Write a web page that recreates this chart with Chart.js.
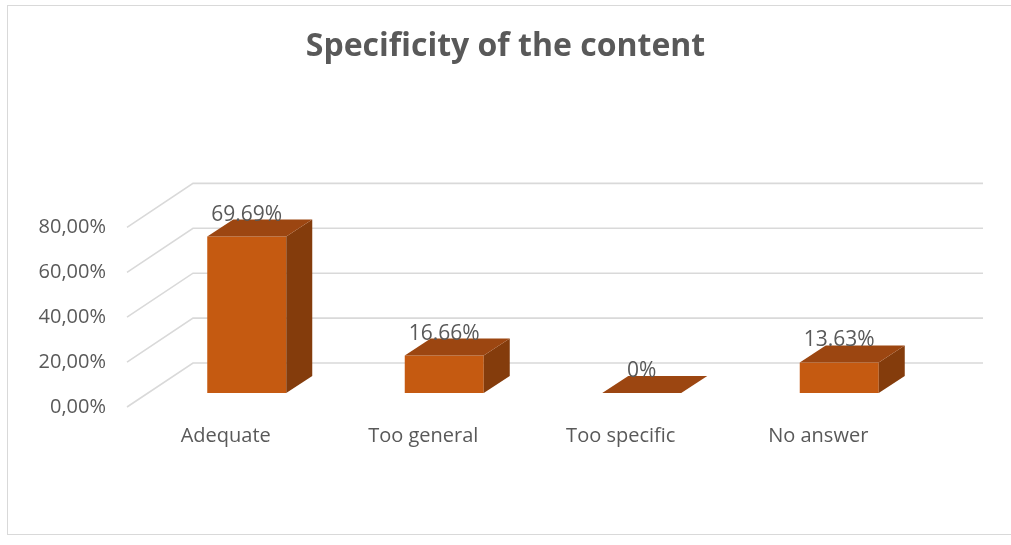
<!DOCTYPE html>
<html>
<head>
<meta charset="utf-8">
<script src="https://cdn.jsdelivr.net/npm/chart.js@4/dist/chart.umd.min.js"></script>
<style>
  html, body { margin: 0; padding: 0; background: #fff; }
  #wrap { position: relative; width: 1011px; height: 545px; overflow: hidden; }
  #frame { position: absolute; left: 7px; top: 5px; width: 1012px; height: 530px;
           border: 1px solid #d9d9d9; box-sizing: border-box; }
  canvas { position: absolute; left: 0; top: 0; }
</style>
</head>
<body>
<div id="wrap">
  <div id="frame"></div>
  <canvas id="chart" width="1011" height="545"></canvas>
</div>
<script>
// answers and their share of respondents (%)
const categories = ['Adequate', 'Too general', 'Too specific', 'No answer'];
const shares = [69.69, 16.66, 0, 13.63];
const shareLabels = ['69.69%', '16.66%', '0%', '13.63%'];
const axisTicks = [0, 20, 40, 60, 80];

// fake 3d: offsets from the bar front plane
const DEPTH_X = 26, DEPTH_Y = 17;   // bar depth
const WALL_X = 45, WALL_Y = 30;     // back wall
const FLOOR_X = 21, FLOOR_Y = 14;   // front edge of the floor

const FRONT = '#c55a11', TOP = '#9c4611', SIDE = '#843c0c';

const box3d = {
  id: 'box3d',
  beforeDatasetsDraw(chart) {
    const {ctx, chartArea: a, scales: {y}} = chart;
    ctx.save();
    ctx.strokeStyle = '#d9d9d9';
    ctx.lineWidth = 1.6;
    axisTicks.forEach(v => {
      const py = y.getPixelForValue(v);
      ctx.beginPath();
      ctx.moveTo(a.left - FLOOR_X, py + FLOOR_Y);
      ctx.lineTo(a.left + WALL_X, py - WALL_Y);
      ctx.lineTo(a.right + WALL_X, py - WALL_Y);
      ctx.stroke();
    });
    ctx.restore();
  },
  afterDatasetsDraw(chart) {
    const ctx = chart.ctx;
    const bars = chart.getDatasetMeta(0).data;
    ctx.save();
    bars.forEach((bar, i) => {
      const l = bar.x - bar.width / 2, r = bar.x + bar.width / 2;
      const t = bar.y, b = bar.base;
      // side face
      if (b - t > 0.5) {
        ctx.fillStyle = SIDE;
        ctx.beginPath();
        ctx.moveTo(r, t);
        ctx.lineTo(r + DEPTH_X, t - DEPTH_Y);
        ctx.lineTo(r + DEPTH_X, b - DEPTH_Y);
        ctx.lineTo(r, b);
        ctx.closePath();
        ctx.fill();
      }
      // top face
      ctx.fillStyle = TOP;
      ctx.beginPath();
      ctx.moveTo(l, t);
      ctx.lineTo(l + DEPTH_X, t - DEPTH_Y);
      ctx.lineTo(r + DEPTH_X, t - DEPTH_Y);
      ctx.lineTo(r, t);
      ctx.closePath();
      ctx.fill();
    });
    // value labels
    ctx.fillStyle = '#595959';
    ctx.font = '21px "Open Sans"';
    ctx.textAlign = 'center';
    ctx.textBaseline = 'middle';
    bars.forEach((bar, i) => {
      ctx.fillText(shareLabels[i], bar.x, bar.y - 22);
    });
    ctx.restore();
  }
};

new Chart(document.getElementById('chart'), {
  type: 'bar',
  data: {
    labels: categories,
    datasets: [{
      data: shares,
      backgroundColor: FRONT,
      borderWidth: 0,
      barPercentage: 0.4,
      categoryPercentage: 1.0
    }]
  },
  options: {
    responsive: false,
    animation: false,
    layout: { padding: 0 },
    plugins: {
      legend: { display: false },
      tooltip: { enabled: false },
      title: {
        display: true,
        text: 'Specificity of the content',
        color: '#595959',
        font: { family: 'Open Sans', size: 32, weight: 'bold' },
        padding: { top: 28, bottom: 147 }
      }
    },
    scales: {
      x: {
        grid: { display: false, drawTicks: false },
        border: { display: false },
        ticks: {
          color: '#595959',
          font: { family: 'Open Sans', size: 20 },
          padding: 31,
          labelOffset: -FLOOR_X
        },
        afterFit(scale) { scale.height = 152; }
      },
      y: {
        min: 0,
        max: 80,
        afterBuildTicks(scale) { scale.ticks = axisTicks.map(v => ({value: v})); },
        grid: { display: false, drawTicks: false },
        border: { display: false },
        ticks: {
          color: '#595959',
          font: { family: 'Open Sans', size: 20 },
          padding: 42,
          labelOffset: FLOOR_Y,
          callback: v => v.toFixed(2).replace('.', ',') + '%'
        },
        afterFit(scale) { scale.width = 148; }
      },
      // empty right-hand axis, only reserves room for the back wall
      yRight: {
        position: 'right',
        min: 0,
        max: 80,
        grid: { display: false, drawTicks: false },
        border: { display: false },
        ticks: { display: false },
        afterFit(scale) { scale.width = 73; }
      }
    }
  },
  plugins: [box3d]
});
</script>
</body>
</html>
